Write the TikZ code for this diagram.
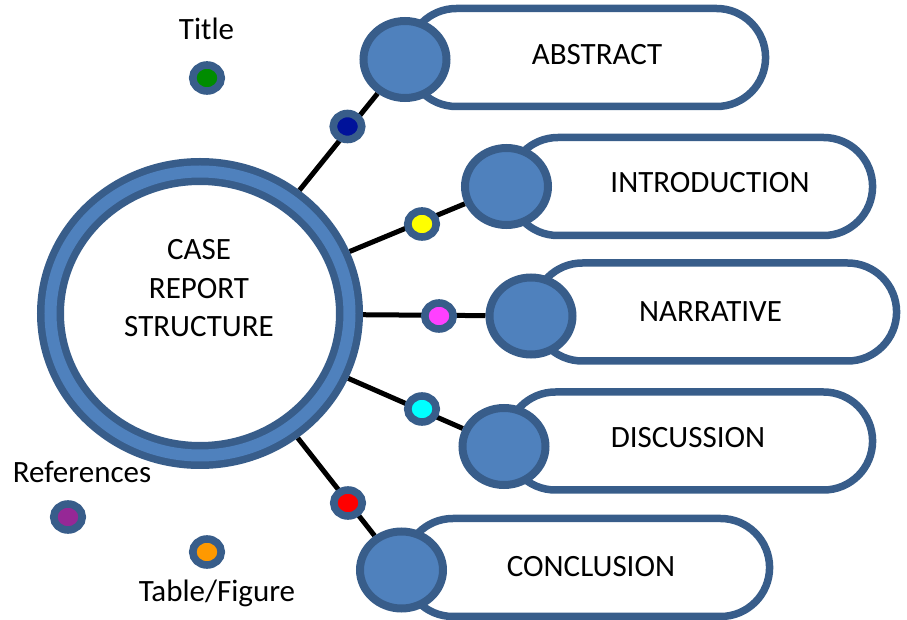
\documentclass[tikz,border=0pt]{standalone}
\usepackage{fontspec}
\setmainfont{Carlito}
\usetikzlibrary{shapes.geometric}
\usetikzlibrary{shapes.misc}
\usetikzlibrary{backgrounds}
\definecolor{rimblue}{RGB}{56,93,138}
\definecolor{fillblue}{RGB}{79,129,189}
\definecolor{dotnavy}{RGB}{0,18,154}
\definecolor{dotyellow}{RGB}{255,255,0}
\definecolor{dotpink}{RGB}{255,64,255}
\definecolor{dotcyan}{RGB}{0,255,255}
\definecolor{dotred}{RGB}{255,0,0}
\definecolor{dotgreen}{RGB}{0,140,0}
\definecolor{dotpurple}{RGB}{150,40,150}
\definecolor{dotorange}{RGB}{255,153,0}
\tikzset{x=0.5pt, y=-0.5pt,
    every node/.style={font=\fontsize{15.5}{19.25}\selectfont},
    hub/.style={
        ellipse, draw=rimblue, fill=white,
        line width=13.5pt,
        minimum width=149.5pt, minimum height=142pt},
    pill/.style={
        rounded rectangle, draw=rimblue, fill=white,
        line width=3.75pt,
        minimum height=49pt},
    knob/.style={
        ellipse, draw=rimblue, fill=fillblue,
        line width=4pt,
        minimum width=41.5pt, minimum height=38.5pt},
    dot/.style={
        ellipse, draw=rimblue, fill=#1,
        line width=3.8pt,
        minimum width=14.25pt, minimum height=13pt, inner sep=0pt},
    spoke/.style={
        draw, line width=2.5pt}}

\begin{document}
\begin{tikzpicture}
        \useasboundingbox (0,0) rectangle (907,620);

        % pills
        \node[pill, minimum width=185.75pt] (p1) at (586.5,57.5) {};
        \node[pill, minimum width=188.5pt] (p2) at (690.75,186.5) {};
        \node[pill, minimum width=188.25pt] (p3) at (715,312) {};
        \node[pill, minimum width=189.75pt] (p4) at (689.5,441) {};
        \node[pill, minimum width=189.5pt] (p5) at (586.75,567.5) {};

        \node (t1) at (597,55) {ABSTRACT};
        \node (t2) at (710,183) {INTRODUCTION};
        \node (t3) at (710.5,311.5) {NARRATIVE};
        \node (t4) at (688,437.5) {DISCUSSION};
        \node (t5) at (591,567) {CONCLUSION};

        % knobs
        \node[knob] (k1) at (405,59.5) {};
        \node[knob] (k2) at (506.5,186.5) {};
        \node[knob] (k3) at (531,316) {};
        \node[knob] (k4) at (504,446.5) {};
        \node[knob] (k5) at (401.5,570) {};

        % hub
        \node[hub] (hub) at (200,313.5) {};
        \draw[fillblue, line width=6pt] (hub.center) ellipse [x radius=74.75pt, y radius=71pt];
        \node[align=center] (case) at (199,288.5) {CASE\\REPORT\\STRUCTURE};

        \begin{pgfonlayer}{background}
        \draw[spoke] (hub) -- (k1);
        \draw[spoke] (hub) -- (k2);
        \draw[spoke] (hub) -- (k3);
        \draw[spoke] (hub) -- (k4);
        \draw[spoke] (hub) -- (k5);
        \end{pgfonlayer}

        % dots
        \node[dot=dotnavy] (d1) at (347.5,126.5) {};
        \node[dot=dotyellow] (d2) at (422,224) {};
        \node[dot=dotpink] (d3) at (439,316) {};
        \node[dot=dotcyan] (d4) at (422,409) {};
        \node[dot=dotred] (d5) at (348,503) {};

        \node[dot=dotgreen] (title) at (207,78) {};
        \node[dot=dotpurple] (refs) at (68,517) {};
        \node[dot=dotorange] (tabfig) at (207,552) {};

        \node[anchor=base] at (206.5,40) {Title};
        \node[anchor=base] at (82,483) {References};
        \node[anchor=base] at (217,602) {Table/Figure};
    \end{tikzpicture}
\end{document}
